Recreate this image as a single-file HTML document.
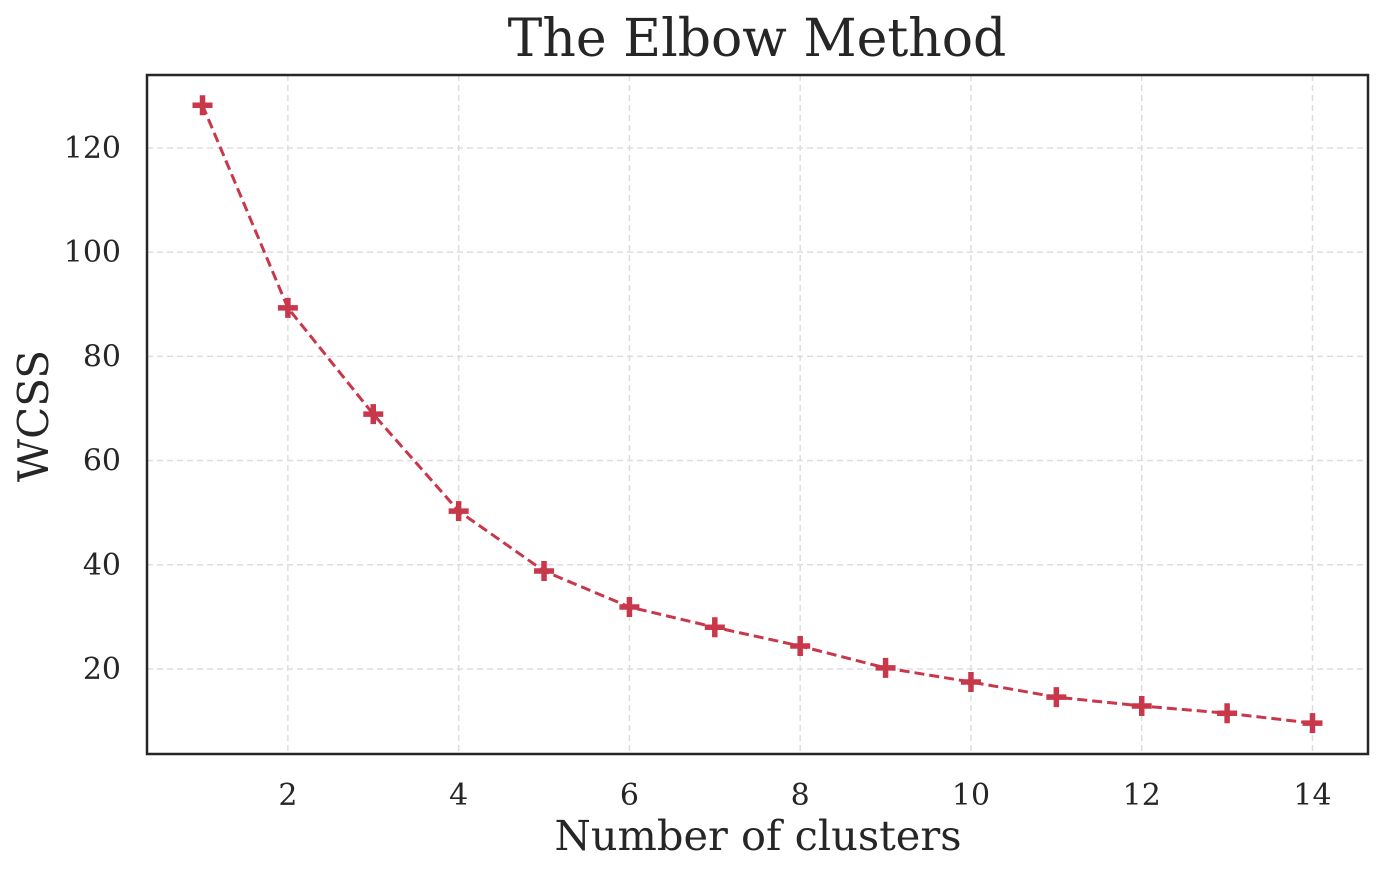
<!DOCTYPE html>
<html><head><meta charset="utf-8"><style>
body{margin:0;background:#fff;}
svg text{font-family:"DejaVu Serif","Liberation Serif",serif;fill:#262626;}
</style></head><body>
<svg id="chart" width="1382" height="873" xmlns="http://www.w3.org/2000/svg">
<rect width="1382" height="873" fill="#fff"/>
<g id="grid"></g><g id="series"></g><g id="ticks"></g>
<rect x="147" y="75" width="1221" height="679" fill="none" stroke="#262626" stroke-width="2.5"/>
<text x="757" y="56" font-size="52" text-anchor="middle">The Elbow Method</text>
<text x="758" y="850" font-size="41.5" text-anchor="middle">Number of clusters</text>
<text transform="translate(48,416) rotate(-90)" font-size="42" text-anchor="middle">WCSS</text>
</svg>
<script>
const clusters=[1,2,3,4,5,6,7,8,9,10,11,12,13,14];
const wcss=[128.2,89.3,68.9,50.3,38.8,31.9,28.0,24.4,20.2,17.5,14.6,12.9,11.5,9.6];
const xTicks=[2,4,6,8,10,12,14];
const yTicks=[20,40,60,80,100,120];
const L=147,R=1368,T=75,B=754;
const xmin=0.35,xmax=14.65,ymin=3.68,ymax=134.0;
const sx=v=>L+(v-xmin)/(xmax-xmin)*(R-L);
const sy=v=>B-(v-ymin)/(ymax-ymin)*(B-T);
const NS='http://www.w3.org/2000/svg';
function mk(tag,attrs,parent){const e=document.createElementNS(NS,tag);for(const k in attrs)e.setAttribute(k,attrs[k]);document.getElementById(parent).appendChild(e);return e;}
xTicks.forEach(t=>{
 const g=mk('line',{x1:sx(t),x2:sx(t),y1:T,y2:B,stroke:'#dddddd','stroke-width':1.5,'stroke-dasharray':'6,4'},'grid');
 
 
 const l=mk('text',{x:sx(t),y:B+51,'font-size':30,'text-anchor':'middle'},'ticks');l.textContent=t;
 
 
});
yTicks.forEach(t=>{
 const g=mk('line',{x1:L,x2:R,y1:sy(t),y2:sy(t),stroke:'#dddddd','stroke-width':1.5,'stroke-dasharray':'6,4'},'grid');
 
 
 const l=mk('text',{x:L-26,y:sy(t)+10,'font-size':30,'text-anchor':'end'},'ticks');l.textContent=t;
 
 
});
const col='#c8374a';
const p=mk('polyline',{points:clusters.map((c,i)=>sx(c)+','+sy(wcss[i])).join(' '),fill:'none',stroke:col,'stroke-width':3,'stroke-dasharray':'10,5'},'series');


clusters.forEach((c,i)=>{
 const x=sx(c),y=sy(wcss[i]);
 const m=mk('path',{d:`M${x-10},${y}H${x+10}M${x},${y-10}V${y+10}`,stroke:col,'stroke-width':5.5},'series');
 
 
});
</script>
</body></html>
